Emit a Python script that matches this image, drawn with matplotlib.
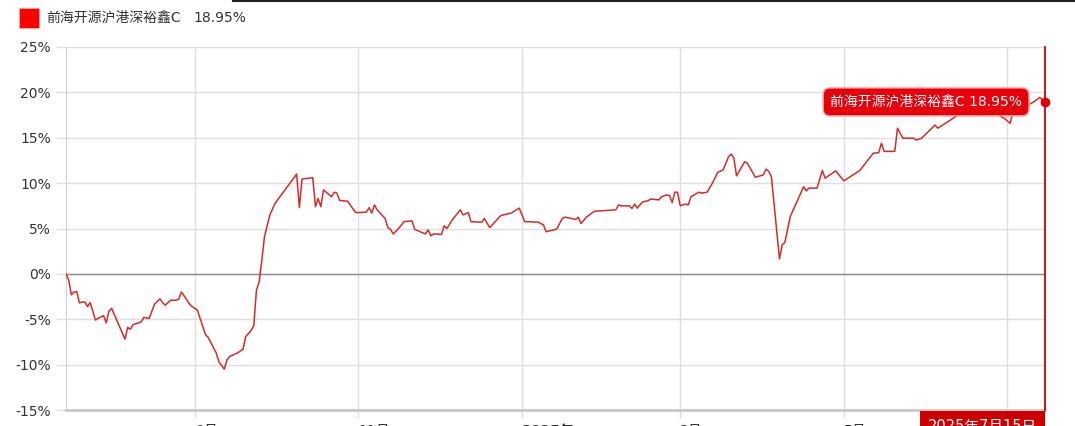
import matplotlib
matplotlib.use("Agg")
import numpy as np
import matplotlib.pyplot as plt
from matplotlib.patches import Rectangle
from matplotlib.lines import Line2D
from matplotlib.transforms import ScaledTranslation

# Latin glyphs from DejaVu, Chinese falls through to Noto CJK
plt.rcParams['font.family'] = ['DejaVu Sans', 'Noto Sans CJK SC']

fund_name = "前海开源沪港深裕鑫C"
last_date_label = "2025年7月15日"

# cumulative return (%)
dates = [
    "2024-07-15", "2024-07-16", "2024-07-17", "2024-07-18", "2024-07-19", "2024-07-20",
    "2024-07-21", "2024-07-22", "2024-07-23", "2024-07-24", "2024-07-26", "2024-07-27",
    "2024-07-29", "2024-07-30", "2024-07-31", "2024-08-01", "2024-08-06", "2024-08-07",
    "2024-08-08", "2024-08-09", "2024-08-12", "2024-08-13", "2024-08-15", "2024-08-17",
    "2024-08-19", "2024-08-20", "2024-08-21", "2024-08-23", "2024-08-25", "2024-08-26",
    "2024-08-27", "2024-08-28", "2024-08-30", "2024-08-31", "2024-09-02", "2024-09-04",
    "2024-09-05", "2024-09-06", "2024-09-09", "2024-09-10", "2024-09-12", "2024-09-13",
    "2024-09-14", "2024-09-17", "2024-09-19", "2024-09-20", "2024-09-22", "2024-09-23",
    "2024-09-24", "2024-09-25", "2024-09-26", "2024-09-27", "2024-09-29", "2024-10-01",
    "2024-10-09", "2024-10-10", "2024-10-11", "2024-10-15", "2024-10-16", "2024-10-17",
    "2024-10-18", "2024-10-19", "2024-10-22", "2024-10-23", "2024-10-24", "2024-10-25",
    "2024-10-28", "2024-10-31", "2024-11-04", "2024-11-05", "2024-11-06", "2024-11-07",
    "2024-11-08", "2024-11-11", "2024-11-12", "2024-11-13", "2024-11-14", "2024-11-16",
    "2024-11-18", "2024-11-21", "2024-11-22", "2024-11-26", "2024-11-27", "2024-11-28",
    "2024-11-29", "2024-12-02", "2024-12-03", "2024-12-04", "2024-12-06", "2024-12-09",
    "2024-12-10", "2024-12-12", "2024-12-13", "2024-12-17", "2024-12-18", "2024-12-20",
    "2024-12-24", "2024-12-25", "2024-12-28", "2024-12-31", "2025-01-02", "2025-01-03",
    "2025-01-07", "2025-01-09", "2025-01-10", "2025-01-13", "2025-01-14", "2025-01-16",
    "2025-01-17", "2025-01-21", "2025-01-22", "2025-01-23", "2025-01-25", "2025-01-28",
    "2025-02-05", "2025-02-06", "2025-02-07", "2025-02-10", "2025-02-11", "2025-02-12",
    "2025-02-13", "2025-02-15", "2025-02-17", "2025-02-18", "2025-02-21", "2025-02-22",
    "2025-02-24", "2025-02-25", "2025-02-26", "2025-02-27", "2025-02-28", "2025-03-01",
    "2025-03-03", "2025-03-04", "2025-03-05", "2025-03-08", "2025-03-09", "2025-03-11",
    "2025-03-13", "2025-03-15", "2025-03-17", "2025-03-19", "2025-03-20", "2025-03-21",
    "2025-03-22", "2025-03-25", "2025-03-26", "2025-03-29", "2025-04-01", "2025-04-02",
    "2025-04-03", "2025-04-04", "2025-04-07", "2025-04-08", "2025-04-09", "2025-04-11",
    "2025-04-16", "2025-04-17", "2025-04-18", "2025-04-21", "2025-04-23", "2025-04-24",
    "2025-04-28", "2025-05-01", "2025-05-07", "2025-05-08", "2025-05-12", "2025-05-14",
    "2025-05-15", "2025-05-16", "2025-05-20", "2025-05-21", "2025-05-23", "2025-05-27",
    "2025-05-28", "2025-05-30", "2025-06-04", "2025-06-05", "2025-06-10", "2025-06-13",
    "2025-06-17", "2025-06-20", "2025-06-24", "2025-06-27", "2025-06-30", "2025-07-02",
    "2025-07-03", "2025-07-06", "2025-07-10", "2025-07-12", "2025-07-13", "2025-07-15",
]
returns = [
    0.0, -0.66, -2.3, -2.0, -1.95, -3.2,
    -3.1, -3.1, -3.6, -3.15, -5.1, -4.9,
    -4.6, -5.4, -4.1, -3.8, -7.2, -5.9,
    -6.1, -5.6, -5.3, -4.8, -4.9, -3.35,
    -2.75, -3.15, -3.45, -2.9, -2.9, -2.8,
    -2.0, -2.4, -3.3, -3.6, -4.0, -5.8,
    -6.7, -7.0, -8.7, -9.7, -10.5, -9.5,
    -9.1, -8.7, -8.3, -6.9, -6.25, -5.7,
    -1.8, -0.9, 1.5, 4.1, 6.5, 7.8,
    11.0, 7.3, 10.45, 10.6, 7.4, 8.3,
    7.4, 9.25, 8.5, 9.0, 8.9, 8.1,
    8.0, 6.75, 6.8, 7.3, 6.7, 7.6,
    7.05, 6.1, 5.1, 4.9, 4.4, 5.0,
    5.75, 5.85, 4.9, 4.4, 4.85, 4.2,
    4.4, 4.35, 5.3, 5.0, 5.95, 7.05,
    6.5, 6.75, 5.75, 5.7, 6.1, 5.1,
    6.4, 6.5, 6.7, 7.25, 5.75, 5.75,
    5.7, 5.4, 4.65, 4.85, 4.95, 6.1,
    6.25, 6.0, 6.25, 5.55, 6.25, 6.9,
    7.05, 7.6, 7.5, 7.5, 7.2, 7.7,
    7.25, 7.95, 8.05, 8.25, 8.15, 8.5,
    8.7, 8.65, 7.85, 9.0, 9.0, 7.5,
    7.7, 7.6, 8.5, 9.0, 8.9, 9.0,
    10.0, 11.2, 11.45, 12.9, 13.2, 12.75,
    10.8, 12.35, 12.2, 10.65, 10.9, 11.55,
    11.3, 10.7, 1.65, 3.2, 3.45, 6.3,
    9.6, 9.15, 9.45, 9.45, 11.4, 10.55,
    11.35, 10.25, 11.4, 11.8, 13.3, 13.35,
    14.4, 13.5, 13.5, 16.05, 14.95, 14.95,
    14.75, 14.95, 16.4, 16.05, 17.0, 17.6,
    17.9, 17.5, 18.1, 17.6, 17.1, 16.6,
    17.8, 18.3, 18.8, 19.2, 19.45, 18.95,
]

tick_dates = ["2024-09-01", "2024-11-01", "2025-01-01", "2025-03-01", "2025-05-01", "2025-07-01"]
tick_labels = ["9月", "11月", "2025年", "3月", "5月", "7月"]
y_ticks = [-15, -10, -5, 0, 5, 10, 15, 20, 25]

W, H = 1075, 426
fig = plt.figure(figsize=(W / 100, H / 100), dpi=100)
ax = fig.add_axes([66 / W, 16 / H, 979 / W, 363 / H])

x = np.array(dates, dtype="datetime64[D]")
y = np.array(returns)

ax.plot(x, y, color="#d42b2b", lw=1.1, zorder=3)
ax.set_xlim(np.datetime64("2024-07-15"), np.datetime64("2025-07-15"))
ax.set_ylim(-15, 25)

ax.set_yticks(y_ticks)
ax.set_yticklabels([f"{v}%" for v in y_ticks])
ax.set_xticks(np.array(tick_dates, dtype="datetime64[D]"))
ax.set_xticklabels(tick_labels)
for lab in ax.get_xticklabels():
    lab.set_horizontalalignment("left")
    lab.set_transform(lab.get_transform() + ScaledTranslation(4 / 100, 0, fig.dpi_scale_trans))
ax.get_xticklabels()[2].set_fontweight("bold")

ax.set_axisbelow(True)
ax.grid(True, color="#dedede", lw=1)
ax.axhline(0, color="#8c8c8c", lw=1, zorder=2)
ax.tick_params(axis="y", length=7, width=1, color="#dedede", pad=4, labelsize=10, labelcolor="#333333")
ax.tick_params(axis="x", length=6, width=1, color="#dedede", pad=4, labelsize=10, labelcolor="#333333")
for s in ["top", "right"]:
    ax.spines[s].set_visible(False)
ax.spines["left"].set_color("#d0d0d0")
ax.spines["bottom"].set_color("#c8c8c8")
ax.spines["bottom"].set_linewidth(2)

# crosshair on the last day
ax.axvline(x[-1], color="#cc0000", lw=1.3, zorder=4, clip_on=False)
ax.plot(x[-1], y[-1], "o", color="#e00000", ms=6, zorder=5, clip_on=False)
ax.annotate(f"{fund_name} {returns[-1]:.2f}%", xy=(x[-1], y[-1]), xytext=(-23, 0),
            textcoords="offset pixels", ha="right", va="center", color="white", fontsize=10,
            zorder=6, bbox=dict(boxstyle="round,pad=0.5,rounding_size=0.5",
                                fc="#e8000b", ec="#ff9a9a", lw=1))
ax.annotate(last_date_label, xy=(x[-1], 0), xycoords=("data", "axes fraction"),
            xytext=(-8, -9), textcoords="offset pixels", ha="right", va="top",
            color="white", fontsize=10.5, zorder=6, annotation_clip=False,
            bbox=dict(boxstyle="square,pad=0.55", fc="#cc0000", ec="none"))

# legend at the top
fig.add_artist(Rectangle((19 / W, 1 - 28 / H), 20 / W, 20 / H, transform=fig.transFigure,
                         fc="#ff0000", ec="#ffb0b0", lw=0.5))
fig.text(46 / W, 1 - 18 / H, fund_name, va="center", ha="left", fontsize=10, color="#333333")
fig.text(193 / W, 1 - 18 / H, f"{returns[-1]:.2f}%", va="center", ha="left", fontsize=10, color="#333333")
fig.add_artist(Line2D([233 / W, 1], [1 - 0.5 / H, 1 - 0.5 / H], transform=fig.transFigure,
                      color="#222222", lw=1.5))

fig.savefig("out.png", dpi=100)
